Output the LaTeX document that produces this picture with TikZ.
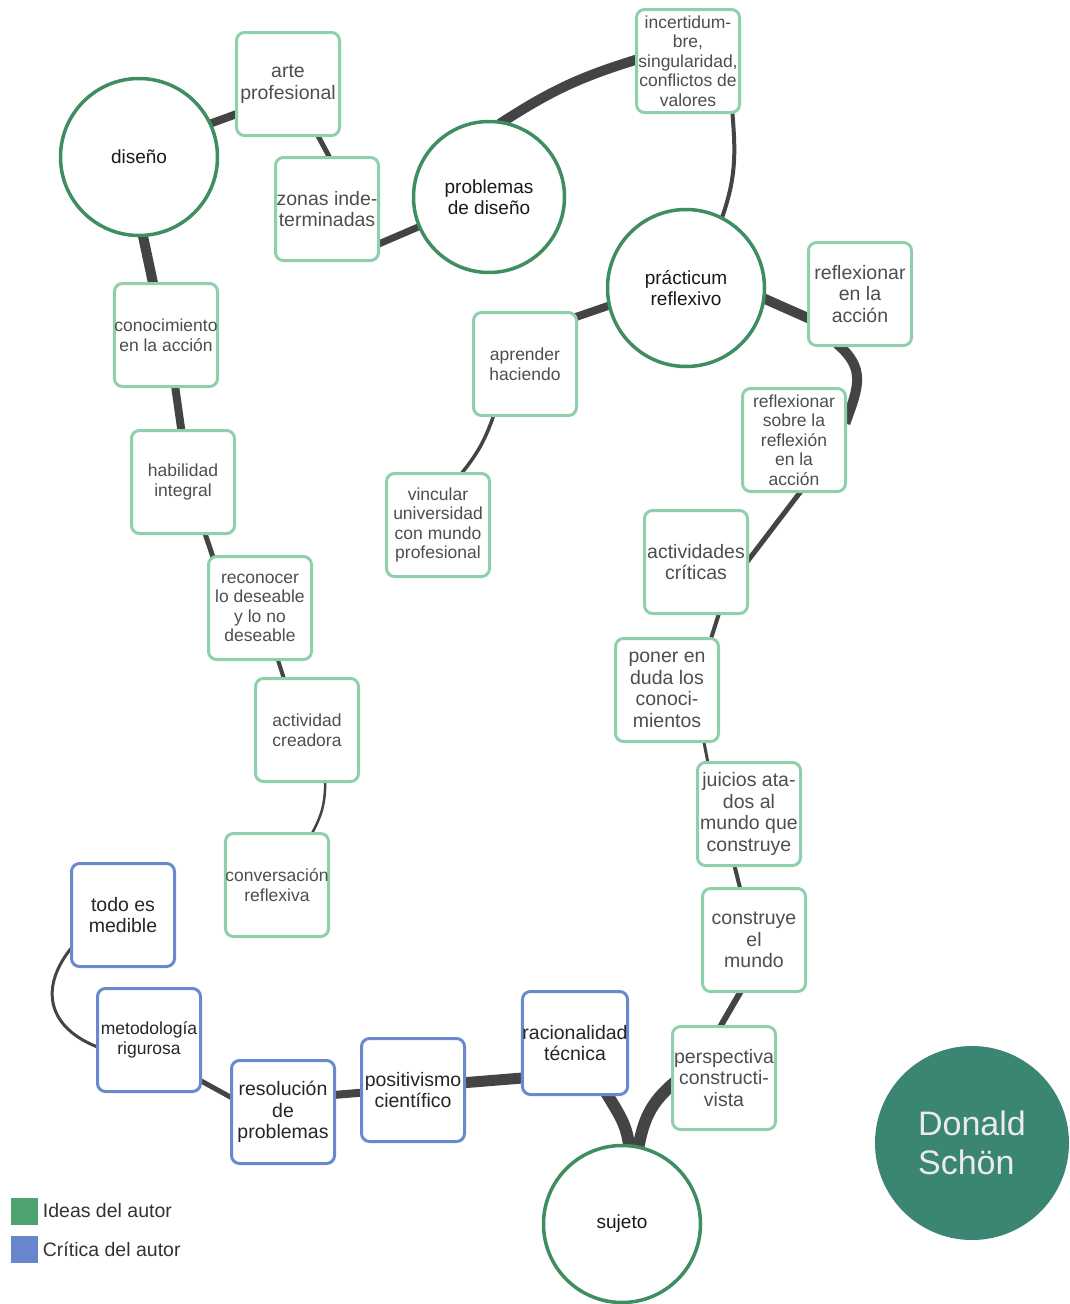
\documentclass[tikz,border=0pt]{standalone}
\usepackage{fontspec}
\setmainfont{Liberation Sans}
\usetikzlibrary{backgrounds,positioning}
\definecolor{ideagreen}{RGB}{143,208,172}
\definecolor{critblue}{RGB}{104,138,204}
\definecolor{hubgreen}{RGB}{62,142,98}
\definecolor{linkgray}{RGB}{68,68,68}
\definecolor{boxtext}{RGB}{78,78,78}
\definecolor{authorteal}{RGB}{58,134,114}
\definecolor{keygreen}{RGB}{76,163,112}
\definecolor{keyblue}{RGB}{104,134,204}

\begin{document}
\begin{tikzpicture}[x=1pt,y=-1pt]
    \tikzstyle{idea}=[draw=ideagreen,line width=3pt,fill=white,rounded corners=8pt,
                      minimum width=103pt,minimum height=103pt,inner sep=0pt,
                      align=center,text=boxtext,font=\fontsize{19.5}{21.5}\selectfont]
    \tikzstyle{ideasm}=[idea,font=\fontsize{17.5}{19.5}\selectfont]
    \tikzstyle{critica}=[idea,draw=critblue,text=black!85]
    \tikzstyle{hub}=[circle,draw=hubgreen,line width=3.5pt,fill=white,minimum size=157pt,
                     inner sep=0pt,align=center,text=black!90,font=\fontsize{19}{21}\selectfont]
    \tikzstyle{link}=[draw=linkgray,shorten <=-5pt,shorten >=-5pt]
    \tikzstyle{key}=[minimum size=27pt,inner sep=0pt]
    \tikzstyle{keytext}=[inner sep=0pt,text=black!80,font=\fontsize{19.5}{21}\selectfont]

    \useasboundingbox (0,0) rectangle (1069,1304);

    \node (diseno) [hub] at (139,157) {diseño};
    \node (arte) [idea] at (288,84) {arte\\profesional};
    \node (zonas) [idea] at (327,209) {zonas inde-\\terminadas};
    \node (problemas) [hub,minimum size=151pt] at (489,197) {problemas\\de diseño};
    \node (incert) [ideasm] at (688,61) {incertidum-\\bre,\\singularidad,\\conflictos de\\valores};
    \node (practicum) [hub] at (686,288) {prácticum\\reflexivo};
    \node (enaccion) [idea] at (860,294) {reflexionar\\en la\\acción};
    \node (sobrerefl) [ideasm] at (794,440) {reflexionar\\sobre la\\reflexión\\en la\\acción};
    \node (aprender) [ideasm] at (525,364) {aprender\\haciendo};
    \node (vincular) [ideasm] at (438,525) {vincular\\universidad\\con mundo\\profesional};
    \node (criticas) [idea] at (696,562) {actividades\\críticas};
    \node (duda) [idea] at (667,690) {poner en\\duda los\\conoci-\\mientos};
    \node (juicios) [idea] at (749,814) {juicios ata-\\dos al\\mundo que\\construye};
    \node (construye) [idea] at (754,940) {construye\\el\\mundo};
    \node (perspectiva) [idea] at (724,1078) {perspectiva\\constructi-\\vista};
    \node (sujeto) [hub] at (622,1224) {sujeto};
    \node (racional) [critica] at (575,1043) {racionalidad\\técnica};
    \node (positivismo) [critica] at (413,1090) {positivismo\\científico};
    \node (resolucion) [critica] at (283,1112) {resolución\\de\\problemas};
    \node (metodologia) [critica,font=\fontsize{17.5}{19.5}\selectfont] at (149,1040) {metodología\\rigurosa};
    \node (medible) [critica] at (123,915) {todo es\\medible};
    \node (conocimiento) [ideasm] at (166,335) {conocimiento\\en la acción};
    \node (habilidad) [ideasm] at (183,482) {habilidad\\integral};
    \node (reconocer) [ideasm] at (260,608) {reconocer\\lo deseable\\y lo no\\deseable};
    \node (creadora) [ideasm] at (307,730) {actividad\\creadora};
    \node (conversacion) [ideasm] at (277,885) {conversación\\reflexiva};

    \node (autor) [circle,fill=authorteal,minimum size=194pt,inner sep=0pt,align=left,
                   text=white!92!black,font=\fontsize{34}{39}\selectfont] at (972,1143) {Donald\\Schön};

    \node (keyidea) [key,fill=keygreen] at (24,1211) {};
    \node (keyideatext) [keytext,right=5pt of keyidea] {Ideas del autor};
    \node (keycrit) [key,fill=keyblue] at (24,1249) {};
    \node (keycrittext) [keytext,right=5pt of keycrit] {Crítica del autor};

    \begin{scope}[on background layer]
      % ideas del autor
      \draw[link,line width=8pt] (diseno.25) -- (arte.210);
      \draw[link,line width=5pt] (arte.-60) -- (zonas.88);
      \draw[link,line width=7pt] (zonas.-33) -- (problemas.203);
      \draw[link,line width=10pt] (problemas.79) to[bend left=8] (incert.179);
      \draw[link,line width=4pt] (incert.-50) to[out=-85,in=70] (practicum.63);
      \draw[link,line width=10pt] (practicum.-8) -- (enaccion.204);
      \draw[link,line width=8pt] (practicum.193) -- (aprender.42);
      \draw[link,line width=3.5pt] (aprender.239) to[bend left=10] (vincular.65);
      \draw[link,line width=10pt] (enaccion.-110) to[out=-40,in=70,looseness=1.2] (sobrerefl.22);
      \draw[link,line width=5pt] (sobrerefl.-84) -- (criticas.3);
      \draw[link,line width=4pt] (criticas.-67) -- (duda.50);
      \draw[link,line width=3pt] (duda.-55) -- (juicios.128);
      \draw[link,line width=4pt] (juicios.-105) -- (construye.105);
      \draw[link,line width=6pt] (construye.-105) -- (perspectiva.93);
      \draw[link,line width=12pt] (perspectiva.188) to[out=220,in=80] (sujeto.78);
      \draw[link,line width=10pt] (diseno.-87) -- (conocimiento.104);
      \draw[link,line width=8pt] (conocimiento.-80) -- (habilidad.92);
      \draw[link,line width=5pt] (habilidad.-67) -- (reconocer.132);
      \draw[link,line width=4pt] (reconocer.-71) -- (creadora.114);
      \draw[link,line width=2.5pt] (creadora.-71) to[bend left=15] (conversacion.56);
      % critica del autor
      \draw[link,line width=12pt] (racional.-58) to[out=-60,in=95] (sujeto.85);
      \draw[link,line width=11pt] (racional.213) -- (positivismo.8);
      \draw[link,line width=8pt] (positivismo.183) -- (resolucion.18);
      \draw[link,line width=5pt] (resolucion.164) -- (metodologia.-38);
      \draw[link,line width=3pt] (medible.213) to[out=230,in=160,looseness=1.3] (metodologia.187);
    \end{scope}
\end{tikzpicture}
\end{document}
